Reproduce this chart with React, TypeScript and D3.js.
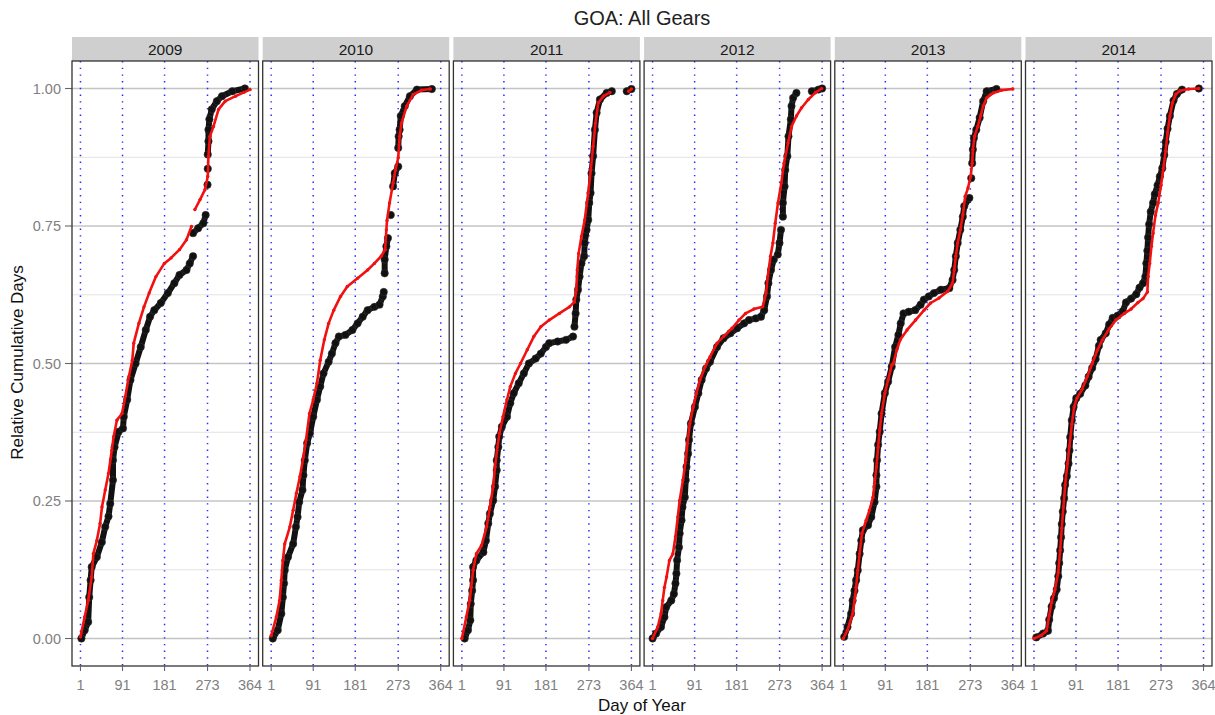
import React from "react";
import * as d3 from "d3";

type Pt = [number, number];

const years = ["2009", "2010", "2011", "2012", "2013", "2014"];
const xTicks = [1, 91, 181, 273, 364];
const yMajor = [0, 0.25, 0.5, 0.75, 1];
const yMinor = [0.125, 0.375, 0.625, 0.875];
const yLabels = ["0.00", "0.25", "0.50", "0.75", "1.00"];

// Observed (black points), split into segments where the record has gaps
const obs2009: Pt[][] = [
  [[3,0],[10,0.015],[17.5,0.03],[19.7,0.075],[22.7,0.106],[25,0.13],[36,0.148],[46.6,0.175],[54,0.203],[61,0.222],[64.7,0.245],[70.6,0.288],[70.6,0.324],[74,0.348],[82.7,0.376],[92,0.382],[93.7,0.403],[101,0.434],[108,0.47],[119,0.5],[130,0.53],[140.8,0.561],[150,0.585],[159,0.597],[173,0.61],[188,0.628],[202,0.646],[213,0.661],[228,0.67],[235,0.682],[242,0.695]],
  [[242,0.737],[253,0.746],[264,0.755],[269,0.77]],
  [[273,0.825]],
  [[273.5,0.854]],
  [[273.5,0.88],[275,0.904],[275,0.925],[277,0.944],[282,0.962],[293,0.977],[304,0.986],[326,0.995],[353,1.0]],
];
const obs2010: Pt[][] = [
  [[4.5,0],[15,0.015],[22.7,0.045],[26,0.075],[28.5,0.1],[30,0.124],[37,0.148],[48,0.172],[54,0.203],[57.5,0.221],[61,0.248],[68,0.27],[70,0.297],[73,0.324],[78,0.355],[84,0.373],[91,0.403],[99,0.434],[106,0.458],[113,0.482],[124,0.503],[131,0.518],[138.6,0.537],[146,0.549],[160,0.552],[175,0.561],[186,0.573],[197,0.585],[207.5,0.597],[222,0.603],[233,0.607],[240,0.622],[242,0.63]],
  [[244,0.664],[244,0.689],[247.6,0.713],[251,0.728]],
  [[257,0.77]],
  [[262,0.822],[265.6,0.846],[273,0.858]],
  [[273,0.892],[274,0.913],[276,0.925],[278.5,0.95],[287,0.968],[298,0.986],[313,0.998],[345,0.999]],
];
const obs2011: Pt[][] = [
  [[7,0],[14,0.015],[19,0.033],[20,0.063],[23,0.087],[25,0.106],[25,0.13],[32,0.142],[47,0.157],[52.5,0.178],[57.5,0.209],[61,0.227],[68,0.251],[72,0.276],[75.6,0.306],[75.6,0.324],[79,0.348],[81,0.367],[86.6,0.385],[97.5,0.403],[104.7,0.428],[112,0.446],[122.7,0.464],[133.6,0.482],[144.5,0.5],[159,0.509],[170,0.518],[181,0.53],[188,0.537],[206,0.54],[224,0.543],[239,0.549]],
  [[242,0.567],[244.5,0.591],[246,0.616],[249.6,0.634],[253,0.658],[257,0.682],[262.7,0.695],[264,0.719],[268,0.743],[271.5,0.761],[273.7,0.792],[276.5,0.81],[278.6,0.846],[282,0.877],[285.8,0.925],[289.5,0.956],[296.6,0.98],[311,0.992],[322,0.995]],
  [[354,0.995],[364,0.999]],
];
const obs2012: Pt[][] = [
  [[1,0],[8.5,0.009],[19,0.021],[26.4,0.039],[30,0.057],[41,0.069],[46.6,0.081],[50,0.1],[52,0.118],[53.5,0.142],[57.5,0.166],[59,0.191],[63,0.215],[65,0.239],[70,0.257],[72,0.288],[73.6,0.312],[77,0.336],[79,0.361],[83,0.391],[91.6,0.421],[99,0.446],[106,0.47],[115.6,0.491],[124,0.503],[139,0.53],[153,0.546],[167.7,0.555],[182,0.564],[197,0.573],[207.5,0.579],[222,0.582],[233,0.585],[240,0.597],[246,0.622],[249,0.646],[254.6,0.67],[260.5,0.689]],
  [[269,0.698],[272.7,0.719],[276,0.743]],
  [[280,0.767],[280,0.792],[283.6,0.822],[285,0.852],[289.5,0.877],[292,0.913],[297,0.944],[298.5,0.968],[302,0.983],[309,0.992]],
  [[342,0.995],[356,0.998],[364,1.0]],
];
const obs2013: Pt[][] = [
  [[3,0.003],[10,0.021],[17.7,0.045],[21,0.069],[25,0.087],[28.5,0.106],[32,0.124],[36,0.154],[39.5,0.178],[43,0.197],[54,0.206],[61,0.221],[68,0.248],[72,0.276],[72,0.297],[73.3,0.324],[75.6,0.352],[79,0.376],[83,0.409],[90,0.446],[97,0.467],[104.7,0.494],[112,0.53],[119,0.552],[124,0.573],[130,0.591],[141,0.594],[155,0.597],[166.6,0.607],[173.5,0.616],[184,0.622],[195,0.628],[210,0.634],[228,0.637],[235,0.652],[238.6,0.67],[242,0.695],[246,0.719],[251.6,0.743],[257,0.767],[260,0.786],[271,0.801]],
  [[275,0.837]],
  [[277,0.864],[278.5,0.889],[280.6,0.91],[285.8,0.925],[293,0.947],[300.5,0.977],[308,0.995],[329,0.999]],
];
const obs2014: Pt[][] = [
  [[6,0.002],[20.6,0.009],[31,0.014],[33.6,0.034],[38.8,0.058],[43.8,0.073],[49.6,0.089],[53,0.113],[55,0.137],[57,0.16],[59,0.184],[60.5,0.208],[62.7,0.231],[65.6,0.255],[67.7,0.279],[71.4,0.295],[75,0.318],[77,0.342],[78.6,0.366],[82,0.397],[85.8,0.421],[91.6,0.437],[100,0.445],[111,0.46],[118,0.476],[125.7,0.492],[133,0.508],[140,0.532],[143.8,0.543],[154.7,0.555],[162,0.571],[169.5,0.583],[180,0.587],[191,0.595],[198,0.611],[209,0.618],[220,0.626],[227,0.638],[234.5,0.646],[239.5,0.658],[241.6,0.682],[243.8,0.705],[245.3,0.729],[247.5,0.753],[251,0.776],[256,0.792],[259.7,0.808],[265.6,0.824],[270.5,0.84],[275.7,0.855],[280,0.879],[283,0.903],[287,0.927],[292,0.95],[299.7,0.978],[307,0.99],[318,0.998]],
  [[354,1.0]],
];

// Reference curve (red points)
const ref2009: Pt[][] = [
  [[1,0.003],[10,0.039],[17.5,0.069],[25,0.112],[28.5,0.154],[36,0.178],[43,0.209],[47,0.239],[54,0.27],[61,0.3],[68,0.342],[72,0.367],[79,0.397],[90,0.409],[97,0.44],[104.5,0.476],[112,0.506],[115,0.537],[126,0.573],[137,0.603],[148,0.628],[162.5,0.658],[180.6,0.682],[195,0.692],[213,0.707],[228,0.725],[238.6,0.749]],
  [[246,0.78],[257,0.798],[267.5,0.816],[273.5,0.84],[275,0.877],[278,0.913],[285.8,0.931],[296.6,0.962],[311,0.977],[333,0.986],[351,0.993],[364,0.998]],
];
const ref2010: Pt[][] = [
  [[1,0.005],[12,0.039],[19,0.069],[22.7,0.106],[26,0.142],[30,0.172],[41,0.203],[48,0.233],[55,0.264],[62.5,0.294],[70,0.33],[75.6,0.361],[83,0.409],[91,0.434],[99,0.464],[106,0.506],[114.7,0.543],[124,0.573],[135,0.597],[149.5,0.622],[164,0.64],[186,0.655],[207.5,0.67],[222,0.682],[236.5,0.695],[245,0.707],[247.6,0.743],[249,0.76],[254.5,0.792],[262,0.828],[267,0.852],[273,0.874],[276,0.913],[280,0.937],[291,0.968],[305,0.989],[323,0.997],[341.5,0.999]],
];
const ref2011: Pt[][] = [
  [[1,0],[10.5,0.039],[17.7,0.069],[21,0.093],[25,0.124],[32,0.154],[43,0.169],[54,0.203],[61,0.239],[68,0.276],[72,0.312],[77,0.348],[81.5,0.373],[89,0.403],[97.5,0.434],[104.7,0.458],[115.6,0.482],[126.5,0.5],[141,0.525],[155,0.549],[170,0.567],[188,0.579],[209.7,0.591],[231.4,0.603],[242,0.612],[246,0.634],[248,0.67],[251,0.7],[257,0.731],[264,0.761],[271.5,0.81],[277,0.852],[282,0.895],[287,0.937],[293,0.974],[304,0.986],[318,0.993]],
  [[358,0.995],[364,0.999]],
];
const ref2012: Pt[][] = [
  [[1,0],[12,0.021],[19,0.045],[22.7,0.069],[26.4,0.093],[31,0.112],[37,0.142],[44.5,0.154],[50,0.185],[55,0.221],[59,0.251],[66,0.288],[72,0.324],[75.6,0.355],[80.8,0.391],[88,0.421],[95,0.446],[102.5,0.47],[113.4,0.494],[124,0.512],[139,0.537],[153,0.549],[171,0.564],[186,0.579],[200,0.591],[218,0.599],[236.7,0.603],[244,0.628],[247.6,0.658],[253.5,0.695],[258.6,0.719],[263.6,0.755],[269.5,0.792],[276.6,0.828],[282.4,0.864],[291,0.901],[298.5,0.931],[309,0.95],[320,0.965],[334.5,0.98],[349,0.992],[363,1.0]],
];
const ref2013: Pt[][] = [
  [[1,0],[10,0.015],[21,0.045],[25,0.069],[28.5,0.093],[32,0.124],[36,0.154],[41,0.191],[50,0.215],[57,0.233],[64.7,0.257],[68,0.282],[72,0.312],[75.6,0.348],[79,0.379],[83,0.409],[90,0.446],[97,0.47],[104.7,0.497],[108,0.5],[115.6,0.525],[123,0.543],[137.6,0.561],[155.8,0.579],[174,0.597],[188,0.61],[206,0.619],[224,0.631],[235,0.646],[238.6,0.67],[242,0.695],[246,0.719],[251.6,0.743],[257,0.77],[262,0.804],[268,0.819],[273.7,0.84],[277,0.864],[278.5,0.889],[282,0.913],[289,0.931],[295,0.95],[300.5,0.968],[308,0.983],[322,0.992],[340,0.997],[364,0.999]],
];
const ref2014: Pt[][] = [
  [[1,0],[17,0.006],[28,0.014],[33.6,0.042],[38.8,0.066],[46,0.089],[53,0.121],[57,0.16],[60.5,0.2],[64,0.239],[67.7,0.279],[72.7,0.318],[77,0.35],[82,0.389],[87,0.421],[93,0.437],[104,0.453],[115,0.476],[125.7,0.5],[136.6,0.524],[147.5,0.543],[162,0.563],[176.4,0.579],[194.5,0.591],[209,0.599],[223.6,0.611],[234.5,0.618],[243.8,0.63],[245.3,0.658],[248.8,0.682],[252.5,0.713],[256,0.737],[261,0.769],[267,0.792],[273,0.824],[278,0.855],[283,0.887],[287,0.919],[292,0.95],[297.5,0.974],[305,0.99],[314,0.996],[332,0.999],[354,1.0]],
];

const observed = [obs2009, obs2010, obs2011, obs2012, obs2013, obs2014];
const reference = [ref2009, ref2010, ref2011, ref2012, ref2013, ref2014];

const FONT = "'Liberation Sans', Arial, sans-serif";
const W = 1215, H = 715;
const panelLeft0 = 72, panelStep = 190.7, panelW = 186.5;
const panelTop = 61, panelH = 605, stripH = 24;

export default function App() {
  const y = d3.scaleLinear().domain([-0.05, 1.05]).range([panelTop + panelH, panelTop]);
  const xDomain: [number, number] = [1 - 18.15, 364 + 18.15];

  return (
    <svg width={W} height={H} style={{ position: "absolute", left: 0, top: 0, display: "block", background: "#fff" }} fontFamily={FONT}>
      <rect x={0} y={0} width={W} height={H} fill="#fff" />
      <text x={642} y={25} textAnchor="middle" fontSize={20} fill="#222">GOA: All Gears</text>
      {yMajor.map((v, k) => (
        <g key={"yt" + k}>
          <line x1={panelLeft0 - 7} x2={panelLeft0} y1={y(v)} y2={y(v)} stroke="#666" strokeWidth={1.1} />
          <text x={panelLeft0 - 11} y={y(v)} dy="0.35em" textAnchor="end" fontSize={14.5} fill="#808080">{yLabels[k]}</text>
        </g>
      ))}
      <text transform={`translate(23,${panelTop + panelH / 2 - 1}) rotate(-90)`} textAnchor="middle" fontSize={17} fill="#111">Relative Cumulative Days</text>
      <text x={642} y={711} textAnchor="middle" fontSize={17} fill="#111">Day of Year</text>
      <defs>
        {years.map((yr, i) => (
          <clipPath id={"clip" + i} key={"c" + i}>
            <rect x={panelLeft0 + i * panelStep} y={panelTop} width={panelW} height={panelH} />
          </clipPath>
        ))}
      </defs>
      {years.map((yr, i) => {
        const left = panelLeft0 + i * panelStep;
        const x = d3.scaleLinear().domain(xDomain).range([left, left + panelW]);
        const line = d3.line<Pt>().x(d => x(d[0])).y(d => y(d[1]));
        return (
          <g key={yr}>
            <rect x={left} y={panelTop - stripH} width={panelW} height={stripH} fill="#cfcfcf" />
            <text x={left + panelW / 2} y={panelTop - stripH / 2} dy="0.36em" textAnchor="middle" fontSize={15.5} fill="#1a1a1a">{yr}</text>
            <rect x={left} y={panelTop} width={panelW} height={panelH} fill="#fff" />
            {yMinor.map((v, k) => (
              <line key={"mn" + k} x1={left} x2={left + panelW} y1={y(v)} y2={y(v)} stroke="#dcdcdc" strokeWidth={0.8} />
            ))}
            {yMajor.map((v, k) => (
              <line key={"mj" + k} x1={left} x2={left + panelW} y1={y(v)} y2={y(v)} stroke="#c4c4c4" strokeWidth={1.4} />
            ))}
            {xTicks.map((t, k) => (
              <line key={"vl" + k} x1={x(t)} x2={x(t)} y1={panelTop} y2={panelTop + panelH} stroke="#2a2aff" strokeWidth={1.5} strokeDasharray="1.4,5.3" />
            ))}
            <g clipPath={`url(#clip${i})`}>
              {observed[i].map((seg, s) => (
                <path key={"ol" + s} d={line(seg) || ""} fill="none" stroke="#111" strokeWidth={6} strokeLinejoin="round" strokeLinecap="round" />
              ))}
              {observed[i].flat().map((p, k) => (
                <circle key={"op" + k} cx={x(p[0])} cy={y(p[1])} r={3.7} fill="#111" stroke="#333" strokeWidth={0.6} />
              ))}
              {reference[i].map((seg, s) => (
                <path key={"rl" + s} d={line(seg) || ""} fill="none" stroke="#f21010" strokeWidth={2.6} strokeLinejoin="round" strokeLinecap="round" />
              ))}
              {reference[i].flat().map((p, k) => (
                <circle key={"rp" + k} cx={x(p[0])} cy={y(p[1])} r={1.7} fill="#f21010" />
              ))}
            </g>
            <rect x={left} y={panelTop} width={panelW} height={panelH} fill="none" stroke="#333" strokeWidth={1.3} />
            {xTicks.map((t, k) => (
              <g key={"xt" + k}>
                <line x1={x(t)} x2={x(t)} y1={panelTop + panelH} y2={panelTop + panelH + 5} stroke="#666" strokeWidth={1.1} />
                <text x={x(t)} y={panelTop + panelH + 24} textAnchor="middle" fontSize={14.5} fill="#808080">{t}</text>
              </g>
            ))}
          </g>
        );
      })}
    </svg>
  );
}
